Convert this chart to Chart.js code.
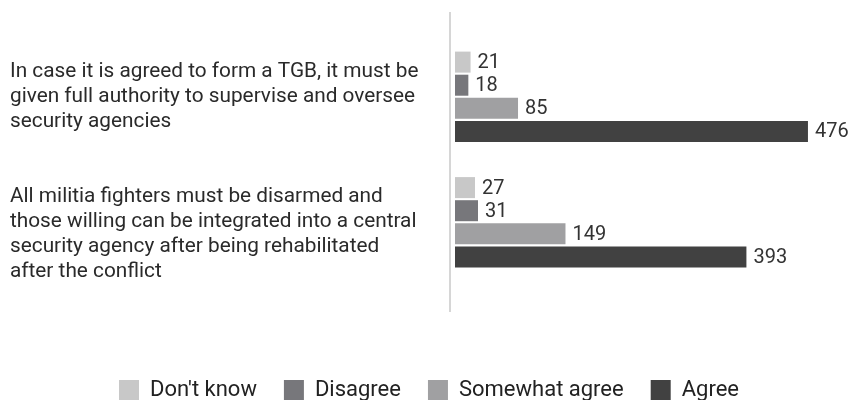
<!DOCTYPE html>
<html>
<head>
<meta charset="utf-8">
<script src="https://cdn.jsdelivr.net/npm/chart.js@4"></script>
<style>
  html, body { margin: 0; padding: 0; background: #fff; overflow: hidden; }
  #wrap { width: 849px; height: 400px; }
</style>
</head>
<body>
<div id="wrap"><canvas id="myChart"></canvas></div>
<script>
// statements (second one starts with an empty line, as in the source layout)
const categories = [
  ["In case it is agreed to form a TGB, it must be",
   "given full authority to supervise and oversee",
   "security agencies"],
  ["",
   "All militia fighters must be disarmed and",
   "those willing can be integrated into a central",
   "security agency after being rehabilitated",
   "after the conflict"],
];
const dontKnow = [21, 27];
const disagree = [18, 31];
const somewhatAgree = [85, 149];
const agree = [476, 393];

const seriesNames = ["Don't know", "Disagree", "Somewhat agree", "Agree"];
const seriesColors = ["#c8c8c8", "#77777b", "#a0a0a2", "#414141"];

// value labels to the right of every bar
const valueLabels = {
  id: "valueLabels",
  afterDatasetsDraw(chart) {
    const ctx = chart.ctx;
    ctx.save();
    ctx.font = "20px Roboto";
    ctx.fillStyle = "#333";
    ctx.textBaseline = "middle";
    ctx.textAlign = "left";
    chart.data.datasets.forEach((ds, i) => {
      chart.getDatasetMeta(i).data.forEach((bar, j) => {
        ctx.fillText(ds.data[j], bar.x + 7, bar.y + 1);
      });
    });
    ctx.restore();
  },
};

// thin vertical axis rule, a bit left of the bars' base
const axisRule = {
  id: "axisRule",
  beforeDatasetsDraw(chart) {
    const { ctx, chartArea, scales } = chart;
    const x = scales.x.getPixelForValue(0) - 5;
    ctx.save();
    ctx.strokeStyle = "#c8c8c8";
    ctx.lineWidth = 1.5;
    ctx.beginPath();
    ctx.moveTo(x, chartArea.top - 22);
    ctx.lineTo(x, chartArea.bottom + 27);
    ctx.stroke();
    ctx.restore();
  },
};

new Chart(document.getElementById("myChart"), {
  type: "bar",
  data: {
    labels: categories,
    datasets: [dontKnow, disagree, somewhatAgree, agree].map((d, i) => ({
      label: seriesNames[i],
      data: d,
      backgroundColor: seriesColors[i],
      categoryPercentage: 0.736,
      barPercentage: 0.91,
    })),
  },
  plugins: [valueLabels, axisRule],
  options: {
    indexAxis: "y",
    responsive: true,
    maintainAspectRatio: false,
    animation: false,
    layout: { padding: { top: 34, left: 10, right: 1, bottom: -11 } },
    plugins: {
      tooltip: { enabled: false },
      legend: {
        position: "bottom",
        labels: {
          boxWidth: 20,
          boxHeight: 20,
          padding: 27,
          color: "#222",
          font: { family: "Roboto", size: 22 },
        },
      },
    },
    scales: {
      x: {
        min: 0,
        max: 530,
        ticks: { display: false },
        grid: { display: false },
        border: { display: false },
        afterFit(scale) { scale.height = 67; },
      },
      y: {
        grid: { display: false },
        border: { display: false },
        ticks: {
          autoSkip: false,
          crossAlign: "far",
          color: "#2a2a2a",
          font: { family: "Roboto", size: 20.8, lineHeight: 1.2 },
        },
        afterFit(scale) {
          scale.width = 445;
          scale.paddingTop = 0;
          scale.paddingBottom = 0;
        },
      },
    },
  },
});
</script>
</body>
</html>
